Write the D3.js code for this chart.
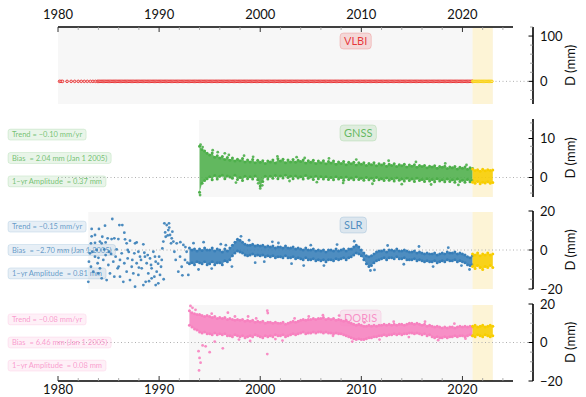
<!DOCTYPE html>
<html><head><meta charset="utf-8">
<script src="https://cdn.jsdelivr.net/npm/d3@7"></script>
<style>
html,body{margin:0;padding:0;background:#fff;}
svg{display:block;font-family:Lato,"Open Sans",sans-serif;}
</style></head>
<body><svg id="chart" width="586" height="397"></svg>
<script>
// ---------------- DATA ----------------
const xTickYears = [1980, 1990, 2000, 2010, 2020];
const yellowStart = 2021.0, yellowEnd = 2023.0;

// VLBI: all values 0 (reference)
const vlbiEarlyEpochs = [1980.15,1980.3,1980.45,1980.9,1981.3,1981.65,1982.0,1982.3,1982.6,1982.9,1983.2,1983.45,1983.7];
const vlbiDenseEpochs = d3.range(1983.9, 2021.0, 0.12);
const vlbiYellowEpochs = d3.range(2021.0, 2023.0, 0.12);
const vlbiValue = 0;

// GNSS band (epochs 1994.00 .. 2021.00 every 0.25 yr)
const gnssEpochs = d3.range(1994, 2021.001, 0.25);
const gnssHi = [8.0,7.2,6.8,6.2, 5.8,6.3,5.2,5.6, 5.0,5.4,4.6,5.1, 4.4,5.0,4.2,4.7, 4.3,4.9,4.0,4.5,
  4.0,4.6,3.8,4.4, 3.9,4.3,3.6,4.2, 4.0,4.5,3.7,4.8, 4.2,4.7,3.8,4.5, 4.0,4.6,3.9,4.4,
  4.1,4.5,3.7,4.3, 3.9,4.4,3.6,4.2, 3.8,4.3,3.5,4.1, 3.7,4.2,3.4,4.0, 3.6,4.1,3.3,3.9,
  3.5,3.9,3.2,3.8, 3.4,3.8,3.1,3.6, 3.3,3.8,3.0,3.5, 3.2,3.6,2.9,3.4, 3.1,3.5,2.8,3.3,
  3.0,3.4,2.7,3.2, 2.9,3.3,2.6,3.1, 2.8,3.1,2.5,2.9, 2.7,3.0,2.4,2.8, 2.6,2.9,2.3,2.7,
  2.5,2.8,2.2,2.6, 2.4,2.7,2.1,2.5, 2.3];
const gnssLo = [-3.8,-1.5,-0.8,-0.3, 0.2,-0.6,0.5,-0.4, 0.3,0.6,-0.3,0.4, 0.1,-0.2,0.6,-0.5, 0.0,-0.8,0.3,-0.3,
  0.2,-0.4,0.4,-0.6, -2.2,-1.0,0.3,-0.4, 0.3,-0.2,0.5,-0.3, 0.4,-0.1,0.6,0.0, 0.3,-0.3,0.4,-0.1,
  0.2,-0.4,0.5,-0.2, 0.1,-0.5,0.3,-0.3, 0.2,-0.4,0.2,-0.5, 0.0,-0.6,0.2,-0.4, 0.0,-0.7,0.1,-0.5,
  -0.1,-0.6,0.1,-0.5, -0.2,-0.7,0.0,-0.6, -0.2,-0.8,0.0,-0.6, -0.3,-0.8,-0.1,-0.7, -0.3,-0.9,-0.1,-0.7,
  -0.4,-0.9,-0.2,-0.8, -0.4,-1.0,-0.2,-0.8, -0.5,-1.0,-0.3,-0.9, -0.5,-1.1,-0.3,-0.9, -0.6,-1.1,-0.4,-1.0,
  -0.6,-1.2,-0.4,-1.0, -0.7,-1.2,-0.5,-1.1, -0.8];
const gnssYellowEpochs = d3.range(2021.0, 2023.001, 0.25);
const gnssYellowHi = [2.2,1.8,2.0,1.6,2.1,1.7,2.0,1.8,1.9];
const gnssYellowLo = [-1.2,-1.5,-1.0,-1.6,-1.2,-1.4,-1.1,-1.5,-1.3];
const gnssOutliers = [[1994.05,-4.5],[1994.1,8.4],[1994.3,7.8],[1995.3,7.0],[1996.5,6.2],[2000.0,-2.8],[2000.2,-2.0],[1999.3,5.3],[2003.6,5.2],
 [1995.8,6.5],[1996.9,5.8],[1997.6,-1.3],[1998.4,5.6],[1999.8,-1.5],[2001.7,5.4],[2002.9,-0.9],[2004.4,5.0],[2005.6,-1.2],
 [2006.8,4.9],[2008.2,-1.4],[2009.5,4.6],[2011.1,-1.6],[2012.7,4.3],[2014.0,-1.7],[2015.4,4.0],[2016.9,-1.8],[2018.3,3.6],
 [2019.6,-1.9],[2020.4,3.2]];
const gnssStats = ["Trend = −0.10 mm/yr", "Bias  = 2.04 mm (Jan 1 2005)", "1−yr Amplitude  = 0.37 mm"];

// SLR band (epochs 1993.00 .. 2021.00 every 0.25 yr)
const slrEpochs = d3.range(1993, 2021.001, 0.25);
const slrHi = [1.0,0.0,0.5,-0.5, 0.5,-0.2,1.0,0.0, 0.0,1.0,-0.5,0.5, 0.0,-1.0,0.5,-0.5, 1.0,2.5,4.0,5.5,
  5.0,4.0,3.0,2.5, 2.5,3.0,2.0,2.5, 2.0,2.5,1.5,2.0, 1.5,2.0,1.0,1.5, 1.5,1.0,2.0,1.0,
  1.0,1.5,0.5,1.0, 0.5,0.0,1.0,0.0, 0.0,0.5,-0.5,0.0, -0.5,0.0,-1.0,0.0, 0.0,-0.5,0.5,-0.5,
  0.0,0.5,-0.5,0.5, 0.5,1.5,2.5,1.5, 0.0,-1.5,-3.0,-3.5, -3.0,-2.0,-1.0,-0.5, -0.5,0.0,-1.0,0.0,
  0.0,-0.5,0.5,-0.5, -0.5,0.0,-0.5,-1.0, -1.0,-0.5,-1.5,-1.0, -1.5,-2.0,-1.5,-2.0, -2.0,-1.5,-2.5,-2.0,
  -1.5,-2.0,-1.0,-1.5, -1.5,-1.0,-2.0,-1.5, -2.0,-2.5,-3.5,-4.0, -3.0];
const slrLo = [-7.0,-6.5,-7.5,-6.0, -6.5,-7.0,-6.0,-7.5, -7.0,-6.0,-7.5,-6.5, -6.5,-7.5,-5.5,-6.0, -5.0,-3.0,-1.5,-0.5,
  -1.0,-1.5,-2.5,-3.0, -2.5,-2.0,-3.0,-2.5, -3.0,-2.5,-3.5,-3.0, -3.5,-3.0,-4.0,-3.5, -3.5,-4.0,-3.0,-4.0,
  -4.0,-3.5,-4.5,-4.0, -4.5,-5.0,-4.0,-5.0, -5.0,-4.5,-5.5,-5.0, -5.5,-5.0,-6.0,-5.0, -5.0,-5.5,-4.5,-5.0,
  -4.5,-4.0,-5.0,-4.0, -3.5,-2.5,-1.5,-2.0, -3.0,-5.0,-7.0,-8.5, -8.0,-6.5,-5.5,-5.0, -4.5,-4.0,-5.0,-4.0,
  -4.0,-4.5,-3.5,-4.5, -4.5,-4.0,-5.0,-5.0, -5.0,-4.5,-5.5,-5.0, -5.5,-6.0,-5.5,-6.0, -6.0,-5.5,-6.5,-6.0,
  -5.5,-6.0,-5.0,-5.5, -5.5,-5.0,-6.0,-5.5, -6.0,-6.5,-7.5,-8.0, -7.5];
const slrYellowEpochs = d3.range(2021.0, 2023.001, 0.25);
const slrYellowHi = [-2.0,-2.5,-1.5,-3.0,-2.0,-2.5,-1.5,-2.5,-2.0];
const slrYellowLo = [-8.5,-9.5,-8.0,-9.0,-10.0,-8.5,-9.0,-8.0,-9.0];
// early sparse SLR normal points and scattered points [year, mm]
const slrSparse = [
 [1983.33,10.8],[1984.05,10.8],[1984.65,12.5],[1985.37,15.9],[1986.07,12.8],[1986.36,12.8],[1983.26,3.4],[1983.66,3.7],
 [1984.15,4.3],[1984.32,3.4],[1984.71,3.9],[1984.91,6.0],[1985.3,5.6],[1985.57,6.0],[1985.97,5.6],[1986.56,8.9],
 [1986.63,5.5],[1987.12,4.8],[1987.78,3.9],[1988.44,2.9],[1983.16,-1.7],[1983.06,-6.0],[1983.26,-8.6],[1983.49,-11.1],
 [1983.0,-16.3],[1983.66,-3.4],[1983.92,-6.8],[1984.15,-9.4],[1984.32,-14.5],[1984.48,-5.1],[1984.71,-2.6],[1984.98,-7.7],
 [1985.14,-12.0],[1985.47,-6.0],[1985.7,-3.4],[1985.9,-9.4],[1986.13,-13.7],[1986.3,-1.7],[1986.56,-6.8],[1986.79,-11.1],
 [1986.89,-4.3],[1987.12,-15.4],[1987.29,-8.6],[1987.55,-1.7],[1987.62,-18.8],[1987.78,-6.8],[1987.95,-12.8],[1988.11,-3.4],
 [1988.28,-9.4],[1988.54,-1.4],[1988.67,-16.3],[1988.77,-6.8],[1988.93,-12.0],[1989.1,-4.3],[1989.26,-9.4],[1989.43,-0.9],
 [1989.53,-13.7],[1989.66,-6.0],[1989.76,-11.1],[1989.92,-17.1],[1990.0,-3.4],[1990.19,-8.6],[1990.32,0.8],[1990.42,4.3],
 [1990.52,13.7],[1990.65,6.8],[1990.75,12.8],[1990.91,10.2],[1990.98,13.7],[1991.08,7.7],[1991.18,3.4],[1991.31,9.4],
 [1991.41,4.3],[1991.51,-0.9],[1991.64,-5.1],[1991.74,3.4],[1991.9,-11.1],[1992.07,-3.4],[1992.23,-8.6],[1992.4,2.6],
 [1992.56,-5.1],[1992.72,-0.9],[1992.89,-12.8],[1983.39,-0.9],[1983.82,0.0],[1984.58,0.3],[1985.04,-0.9],[1985.8,0.3],
 [1986.13,-5.1],[1986.89,0.0],[1987.35,-5.1],[1987.95,-0.9],[1988.21,-5.1],[1988.87,-2.6],[1989.2,-7.7],[1989.59,-3.4],
 [1990.09,-12.8],[1990.26,-5.1],[1983.99,-12.0],[1984.81,-15.4],[1985.57,-13.7],[1986.46,-16.3],[1987.45,-12.0],[1988.44,-18.0],
 [1989.26,-14.5],[1989.66,-18.0],[1988.6,-3.4],[1987.62,3.4],[1984.38,6.8],[1983.66,7.7],[1986.79,3.4],[1983.33,7.0],
 [1990.6,9.0],[1990.85,7.5],[1991.0,11.5],[1991.25,6.0],[1992.1,4.0],[1992.3,-13.0],[1992.6,1.5],[1992.8,-6.5],
 [1990.45,-15.0],[1989.9,-7.0],[1988.0,-9.0],[1985.25,-2.0],[1984.0,-4.0],[1986.0,-8.5],[1987.0,-1.0],[1989.0,-16.0],
 [1993.4,3.5],[1993.9,-10.0],[1994.4,4.0],[1995.2,-9.5],[1996.1,3.0],[1998.1,7.0],[1999.5,-6.5],[2001.2,4.2],[2004.3,-8.0],[2010.9,-10.5],
 [1996.6,2.5],[1997.2,-8.5],[1998.9,5.0],[2000.4,-6.0],[2001.8,3.6],[2003.1,-7.0],[2005.0,2.5],[2006.3,-8.0],[2007.6,2.8],
 [2009.3,4.5],[2011.3,-10.2],[2012.6,2.3],[2014.2,-7.3],[2015.7,1.8],[2017.1,-8.5],[2018.6,1.2],[2019.9,-8.0],[2020.7,-10.0]
];
const slrStats = ["Trend = −0.15 mm/yr", "Bias  = −2.70 mm (Jan 1 2005)", "1−yr Amplitude  = 0.81 mm"];

// DORIS band (epochs 1993.00 .. 2021.00 every 0.25 yr)
const dorisEpochs = d3.range(1993, 2021.001, 0.25);
const dorisHi = [16.5,15.5,15.0,14.5, 14.5,14.0,13.5,14.0, 13.5,13.0,13.5,12.5, 13.0,12.5,13.0,12.0, 12.5,12.0,11.5,12.0,
  11.5,12.0,11.0,11.5, 11.0,11.5,10.5,11.0, 10.5,11.0,10.0,10.5, 10.5,10.0,10.5,10.0, 10.0,10.5,9.5,10.0,
  10.5,11.0,10.5,11.0, 11.5,12.0,11.5,12.0, 12.0,12.5,12.0,12.5, 12.5,13.0,12.0,12.5, 12.0,12.5,11.5,12.0,
  11.5,11.0,11.5,10.5, 10.0,9.5,9.0,9.5, 9.0,8.5,8.5,9.0, 8.5,9.0,8.5,9.0, 9.0,9.5,9.0,9.5,
  9.0,9.5,9.0,9.5, 9.5,9.0,9.5,10.0, 10.0,9.5,10.0,9.5, 9.0,9.5,8.5,9.0, 8.5,8.0,8.5,8.0,
  7.5,8.0,7.5,8.0, 8.0,7.5,8.0,8.5, 8.0,8.5,8.0,8.5, 8.0];
const dorisLo = [9.0,8.0,7.0,6.5, 5.5,5.0,5.5,4.5, 4.5,4.0,5.0,4.0, 4.5,4.0,4.5,3.5, 3.5,3.0,4.0,3.5,
  3.0,3.5,2.5,3.0, 3.5,3.0,4.0,3.5, 3.0,2.5,3.5,3.0, 3.5,3.0,4.0,3.5, 3.5,4.0,3.0,3.5,
  4.0,4.5,4.0,4.5, 5.0,5.5,4.5,5.0, 5.0,5.5,5.0,5.5, 5.5,5.0,5.5,5.0, 5.0,4.5,5.0,4.5,
  4.5,4.0,3.5,3.0, 2.5,2.0,1.5,2.0, 1.5,1.5,2.0,2.5, 2.5,3.0,3.0,3.5, 3.5,4.0,3.5,4.0,
  4.0,4.5,4.0,4.5, 4.0,4.5,4.5,5.0, 5.0,4.5,5.0,4.5, 4.0,4.5,3.5,4.0, 3.0,2.5,3.0,2.5,
  2.5,3.0,2.5,3.0, 3.0,3.5,3.0,3.5, 3.5,3.0,3.5,4.0, 3.5];
const dorisYellowEpochs = d3.range(2021.0, 2023.001, 0.25);
const dorisYellowHi = [8.5,9.0,8.0,8.5,9.0,8.0,8.5,9.0,8.5];
const dorisYellowLo = [3.5,3.0,4.0,3.5,3.0,4.0,3.5,3.0,3.5];
const dorisOutliers = [[1993.1,19.0],[1993.3,18.0],[1993.6,17.0],[1993.9,-4.5],[1994.0,-8.0],[1994.1,-10.5],[1993.95,-14.5],
 [1994.3,-1.5],[1994.6,-2.0],[1995.0,-5.0],[1996.3,-3.0],[1996.8,15.5],[1997.5,13.5],[1998.8,13.5],[2000.7,16.5],
 [2000.75,15.3],[2000.7,-6.0],[2002.2,1.0],[1995.5,0.5],[1999.0,0.8],[2007.8,14.0],
 [1995.2,15.0],[1997.9,1.5],[1999.6,12.5],[2001.5,1.8],[2003.4,12.5],[2004.8,13.5],[2006.2,14.2],[2007.2,3.5],[2009.1,0.5],
 [2010.3,10.5],[2011.8,1.5],[2013.2,10.8],[2014.7,2.8],[2016.3,10.8],[2017.6,1.2],[2019.2,9.8],[2020.3,2.0]];
const dorisStats = ["Trend = −0.08 mm/yr", "Bias  = 6.46 mm (Jan 1 2005)", "1−yr Amplitude  = 0.08 mm"];

// ---------------- CHART ----------------
const svg = d3.select("#chart");
const YEL = "#f7cd00";
const x = d3.scaleLinear().domain([1980, 2025]).range([58, 513]);
const axisX = 533;

const panels = [
  {name:"VLBI", color:"#e41a1c", top:27, bottom:104, domain:[-50,120], major:[0,100], minor:20, bgStart:1980},
  {name:"GNSS", color:"#4daf4a", top:119, bottom:197, domain:[-5,15], major:[0,10], minor:2, bgStart:gnssEpochs[0]-0.05,
   band:{t:gnssEpochs, hi:gnssHi, lo:gnssLo}, yband:{t:gnssYellowEpochs, hi:gnssYellowHi, lo:gnssYellowLo}, pts:gnssOutliers, stats:gnssStats},
  {name:"SLR", color:"#377eb8", top:211, bottom:289, domain:[-20,20], major:[-20,0,20], minor:5, bgStart:1983.0,
   band:{t:slrEpochs, hi:slrHi, lo:slrLo}, yband:{t:slrYellowEpochs, hi:slrYellowHi, lo:slrYellowLo}, pts:slrSparse, stats:slrStats},
  {name:"DORIS", color:"#f781bf", top:304, bottom:381, domain:[-20,20], major:[-20,0,20], minor:5, bgStart:dorisEpochs[0]-0.05,
   band:{t:dorisEpochs, hi:dorisHi, lo:dorisLo}, yband:{t:dorisYellowEpochs, hi:dorisYellowHi, lo:dorisYellowLo}, pts:dorisOutliers, stats:dorisStats}
];

function drawBand(g, y, b, col) {
  const d = b.t.map((t,i)=>({t, hi:b.hi[i], lo:b.lo[i]}));
  g.append("path").datum(d)
    .attr("d", d3.area().x(p=>x(p.t)).y0(p=>y(p.lo)).y1(p=>y(p.hi)).curve(d3.curveLinear))
    .attr("fill", col).attr("opacity", 0.88);
  const dots = [];
  d.forEach(p=>{ dots.push([p.t,p.hi],[p.t,p.lo]); });
  g.selectAll(null).data(dots).enter().append("circle")
    .attr("cx", p=>x(p[0])).attr("cy", p=>y(p[1])).attr("r", 1.5).attr("fill", col);
}

panels.forEach(P => {
  const y = d3.scaleLinear().domain(P.domain).range([P.bottom, P.top]);
  const g = svg.append("g");
  // background
  g.append("rect").attr("x", x(P.bgStart)).attr("y", P.top+1).attr("width", x(2023)-x(P.bgStart))
    .attr("height", P.bottom-P.top-1).attr("fill", "#f7f7f7");
  g.append("rect").attr("x", x(yellowStart)).attr("y", P.top+1).attr("width", x(yellowEnd)-x(yellowStart))
    .attr("height", P.bottom-P.top-1).attr("fill", "#fdf4d6");
  // zero line
  g.append("line").attr("x1", x(1980)).attr("x2", axisX).attr("y1", y(0)).attr("y2", y(0))
    .attr("stroke", "#b0b0b0").attr("stroke-width", 1).attr("stroke-dasharray", "1,2.5");
  // stats labels
  if (P.stats) {
    P.stats.forEach((s,i) => {
      const cy = P.top + (P.bottom-P.top)*[0.2,0.5,0.8][i];
      const lg = g.append("g");
      const rect = lg.append("rect");
      const t = lg.append("text").attr("x", 12).attr("y", cy).attr("dy", "0.35em")
        .attr("font-size", 7.5).attr("fill", P.color).attr("fill-opacity", 0.75)
        .style("white-space", "pre").text(s);
      const w = t.node().getComputedTextLength();
      rect.attr("x", 8).attr("y", cy-5.5).attr("width", w+8).attr("height", 11).attr("rx", 2.5)
        .attr("fill", P.color).attr("fill-opacity", 0.12).attr("stroke", P.color).attr("stroke-opacity", 0.15);
    });
  }
  // name tag
  const tg = g.append("g");
  const tr = tg.append("rect");
  const tt = tg.append("text").attr("x", 344).attr("y", P.top+14).attr("dy", "0.35em")
    .attr("font-size", 11).attr("fill", P.color).attr("fill-opacity", 0.85).text(P.name);
  const tw = tt.node().getComputedTextLength();
  tr.attr("x", 340).attr("y", P.top+6).attr("width", tw+8).attr("height", 16).attr("rx", 3.5)
    .attr("fill", P.color).attr("fill-opacity", 0.14).attr("stroke", P.color).attr("stroke-opacity", 0.18);

  // data
  if (P.name === "VLBI") {
    const all = vlbiEarlyEpochs.concat(vlbiDenseEpochs);
    g.selectAll(null).data(all).enter().append("circle")
      .attr("cx", d=>x(d)).attr("cy", y(vlbiValue)).attr("r", 1.3)
      .attr("fill", "#fbd5d5").attr("stroke", P.color).attr("stroke-width", 0.8);
    g.selectAll(null).data(vlbiYellowEpochs).enter().append("circle")
      .attr("cx", d=>x(d)).attr("cy", y(vlbiValue)).attr("r", 1.3)
      .attr("fill", "#ffe680").attr("stroke", YEL).attr("stroke-width", 0.8);
  } else {
    drawBand(g, y, P.band, P.color);
    drawBand(g, y, P.yband, YEL);
    g.selectAll(null).data(P.pts).enter().append("circle")
      .attr("cx", p=>x(p[0])).attr("cy", p=>y(p[1])).attr("r", 1.4).attr("fill", P.color).attr("fill-opacity", 0.9);
  }

  // right axis
  const ax = svg.append("g");
  ax.append("line").attr("x1", axisX).attr("x2", axisX).attr("y1", P.top).attr("y2", P.bottom)
    .attr("stroke", "#000").attr("stroke-width", 1.6);
  const minors = d3.range(Math.ceil(P.domain[0]/P.minor)*P.minor, P.domain[1]+0.001, P.minor)
    .filter(v=>!P.major.includes(v));
  ax.selectAll(null).data(minors).enter().append("line")
    .attr("x1", axisX-3).attr("x2", axisX).attr("y1", d=>y(d)).attr("y2", d=>y(d))
    .attr("stroke", "#888").attr("stroke-width", 0.8);
  ax.selectAll(null).data(P.major).enter().append("line")
    .attr("x1", axisX-4.5).attr("x2", axisX).attr("y1", d=>y(d)).attr("y2", d=>y(d))
    .attr("stroke", "#000").attr("stroke-width", 1);
  ax.selectAll(null).data(P.major).enter().append("text")
    .attr("x", axisX+7).attr("y", d=>y(d)).attr("dy", "0.36em")
    .attr("font-size", 13).attr("fill", "#111").text(d=>d3.format("d")(d));
  ax.append("text").attr("transform", `translate(${axisX+42},${(P.top+P.bottom)/2}) rotate(-90)`)
    .attr("text-anchor", "middle").attr("font-size", 13).attr("fill", "#111").text("D (mm)");
});

// top and bottom x axes
function xAxis(yPos, dir, labelY) {
  const g = svg.append("g");
  g.append("line").attr("x1", x(1980)).attr("x2", x(2025)).attr("y1", yPos).attr("y2", yPos)
    .attr("stroke", "#000").attr("stroke-width", 1.6);
  const minors = d3.range(1982, 2025, 2).filter(v=>v%10!==0);
  g.selectAll(null).data(minors).enter().append("line")
    .attr("x1", d=>x(d)).attr("x2", d=>x(d)).attr("y1", yPos).attr("y2", yPos+dir*3)
    .attr("stroke", "#999").attr("stroke-width", 0.8);
  g.selectAll(null).data(xTickYears).enter().append("line")
    .attr("x1", d=>x(d)).attr("x2", d=>x(d)).attr("y1", yPos).attr("y2", yPos+dir*5)
    .attr("stroke", "#333").attr("stroke-width", 1);
  g.selectAll(null).data(xTickYears).enter().append("text")
    .attr("x", d=>x(d)).attr("y", labelY).attr("text-anchor", "middle")
    .attr("font-size", 13).attr("fill", "#111").text(d=>d);
}
xAxis(27, 1, 19);
xAxis(381, -1, 394);
</script></body></html>
